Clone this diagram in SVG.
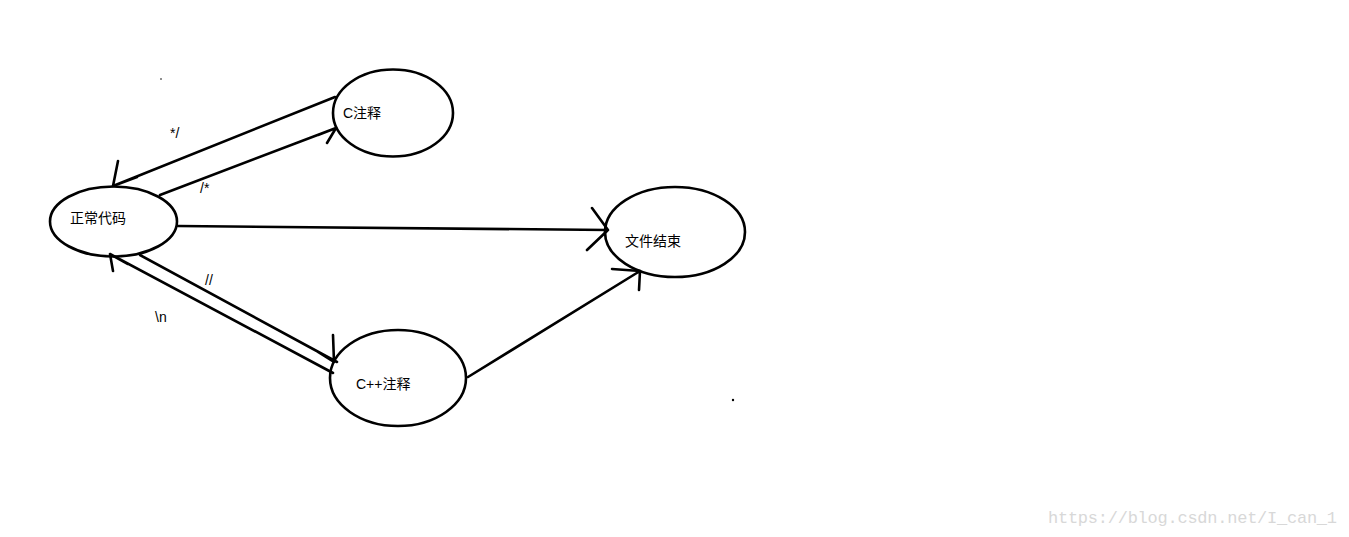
<svg xmlns="http://www.w3.org/2000/svg" width="1349" height="537" viewBox="0 0 1349 537">
<style>
.n{fill:none;stroke:#000;stroke-width:2.6}
.e{fill:none;stroke:#000;stroke-width:2.6;stroke-linecap:round;stroke-linejoin:round}
.t{font-family:"Liberation Sans","Noto Sans CJK SC",sans-serif;font-size:14px;fill:#000}
.w{font-family:"Liberation Mono",monospace;font-size:17px;fill:#d8d8d8}
</style>
<rect width="1349" height="537" fill="#fff"/>
<g id="node-normal"><ellipse class="n" cx="113.5" cy="221.5" rx="63.5" ry="35"/><text class="t" x="70" y="223">正常代码</text></g>
<g id="node-c"><ellipse class="n" cx="393" cy="113" rx="60" ry="43.5"/><text class="t" x="343" y="118">C注释</text></g>
<g id="node-end"><ellipse class="n" cx="675" cy="232" rx="70" ry="45"/><text class="t" x="625" y="246">文件结束</text></g>
<g id="node-cpp"><ellipse class="n" cx="398" cy="378" rx="68" ry="48"/><text class="t" x="356" y="389">C++注释</text></g>
<g id="connectors">
<path class="e" d="M335 97 L113 186 M118 161 L113 186 L137 177"/>
<path class="e" d="M160 195 L336 128 M327 143 L336 128 L318 135"/>
<path class="e" d="M140 255 L337 362 M333 335 L334 362 L318 352"/>
<path class="e" d="M333 373 L110 254 M113 271 L110 254 L128 264"/>
<path class="e" d="M178 226 L608 230 M592 208 L608 230 L587 250"/>
<path class="e" d="M468 377 L640 271 M612 269 L640 271 L639 290"/>
</g>
<g id="labels">
<text class="t" x="170" y="138">*/</text>
<text class="t" x="200" y="193">/*</text>
<text class="t" x="205" y="285">//</text>
<text class="t" x="155" y="322">\n</text>
</g>
<circle cx="161" cy="79" r="0.8" fill="#000"/>
<circle cx="733" cy="400" r="1.2" fill="#000"/>
<text class="w" x="1048" y="523" textLength="289">https://blog.csdn.net/I_can_1</text>
</svg>
